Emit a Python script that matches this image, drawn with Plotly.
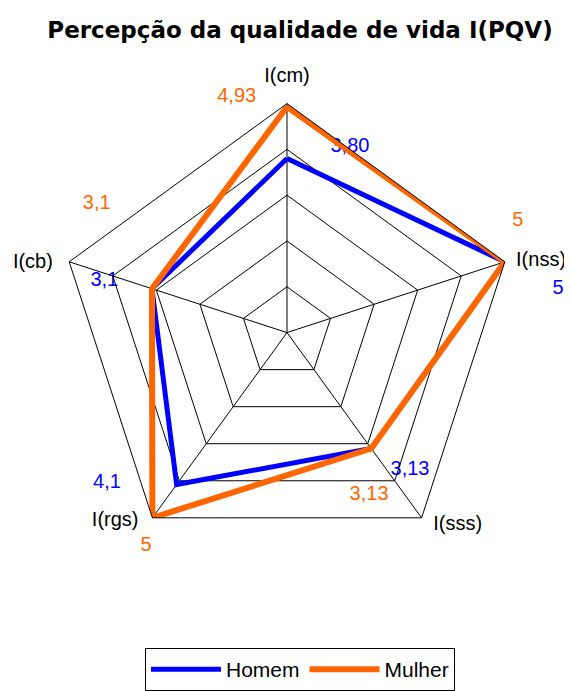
import math
import plotly.graph_objects as go

categories = ["I(cm)", "I(nss)", "I(sss)", "I(rgs)", "I(cb)"]
homem = [3.80, 5, 3.13, 4.1, 3.1]
mulher = [4.93, 5, 3.13, 5, 3.1]
homem_labels = ["3,80", "5", "3,13", "4,1", "3,1"]
mulher_labels = ["4,93", "5", "3,13", "5", "3,1"]

# label placement (radius in value units, angle clockwise from top in degrees)
cat_lab_r = [5.57, 5.74, 5.6, 5.55, 5.73]
cat_lab_t = [0, 74.2, 138.5, 222.3, 285.4]
homem_lab_r = [4.27, 5.97, 4.02, 5.11, 4.13]
homem_lab_t = [18.7, 80.8, 138.3, 230, 285.9]
mulher_lab_r = [5.26, 5.58, 3.97, 5.57, 5.0]
mulher_lab_t = [348, 64.1, 153.3, 213.4, 304.2]

BLUE = "#0000FF"
ORANGE = "#FF6600"
# page body has an 8px margin, so the figure is drawn 8px in from the window edge
W, H = 564, 683
CX, CY, R, RMAX = 279, 326, 230, 5
S = R / RMAX  # px per unit


def to_xy(rs, ts):
    xs = [r * math.sin(math.radians(t)) for r, t in zip(rs, ts)]
    ys = [r * math.cos(math.radians(t)) for r, t in zip(rs, ts)]
    return xs, ys


fig = go.Figure()
fig.add_trace(go.Scatterpolar(
    r=homem + homem[:1], theta=categories + categories[:1], mode="lines", name="Homem",
    line=dict(color=BLUE, width=5), hoverinfo="r+theta"))
fig.add_trace(go.Scatterpolar(
    r=mulher + mulher[:1], theta=categories + categories[:1], mode="lines", name="Mulher",
    line=dict(color=ORANGE, width=6), hoverinfo="r+theta"))

for rs, ts, txt, col, sz in [(cat_lab_r, cat_lab_t, categories, "black", 20),
                             (homem_lab_r, homem_lab_t, homem_labels, BLUE, 20),
                             (mulher_lab_r, mulher_lab_t, mulher_labels, ORANGE, 20)]:
    xs, ys = to_xy(rs, ts)
    fig.add_trace(go.Scatter(x=xs, y=ys, mode="text", text=txt,
                             textfont=dict(color=col, size=sz, family="Arial"),
                             showlegend=False, cliponaxis=False, hoverinfo="skip"))

fig.update_layout(
    width=W, height=H,
    margin=dict(l=0, r=0, t=0, b=0),
    paper_bgcolor="white", plot_bgcolor="rgba(0,0,0,0)",
    font=dict(family="Arial", size=16, color="black"),
    title=dict(text="<b>Percepção da qualidade de vida I(PQV)</b>",
               x=292 / W, xanchor="center", y=1 - 22 / H, yanchor="middle",
               font=dict(size=23, family="DejaVu Sans", color="black")),
    xaxis=dict(domain=[0, 1], range=[-CX / S, (W - CX) / S], visible=False, fixedrange=True),
    yaxis=dict(domain=[0, 1], range=[-(H - CY) / S, CY / S], visible=False, fixedrange=True),
    polar=dict(
        domain=dict(x=[(CX - R) / W, (CX + R) / W], y=[(H - CY - R) / H, (H - CY + R) / H]),
        bgcolor="rgba(0,0,0,0)",
        gridshape="linear",
        radialaxis=dict(range=[0, RMAX], tickvals=[1, 2, 3, 4, 5], showticklabels=False,
                        ticks="", showline=False, gridcolor="black", gridwidth=1),
        angularaxis=dict(type="category", rotation=90, direction="clockwise",
                         showticklabels=False, ticks="", showline=True,
                         linecolor="black", linewidth=1,
                         gridcolor="black", gridwidth=1),
    ),
    legend=dict(orientation="h", x=292 / W, xanchor="center", y=1 - 643 / H, yanchor="top",
                bordercolor="black", borderwidth=1, bgcolor="white",
                font=dict(size=21, family="Arial", color="black"),
                itemwidth=70, tracegroupgap=0),
)

fig.write_html("out.html")
